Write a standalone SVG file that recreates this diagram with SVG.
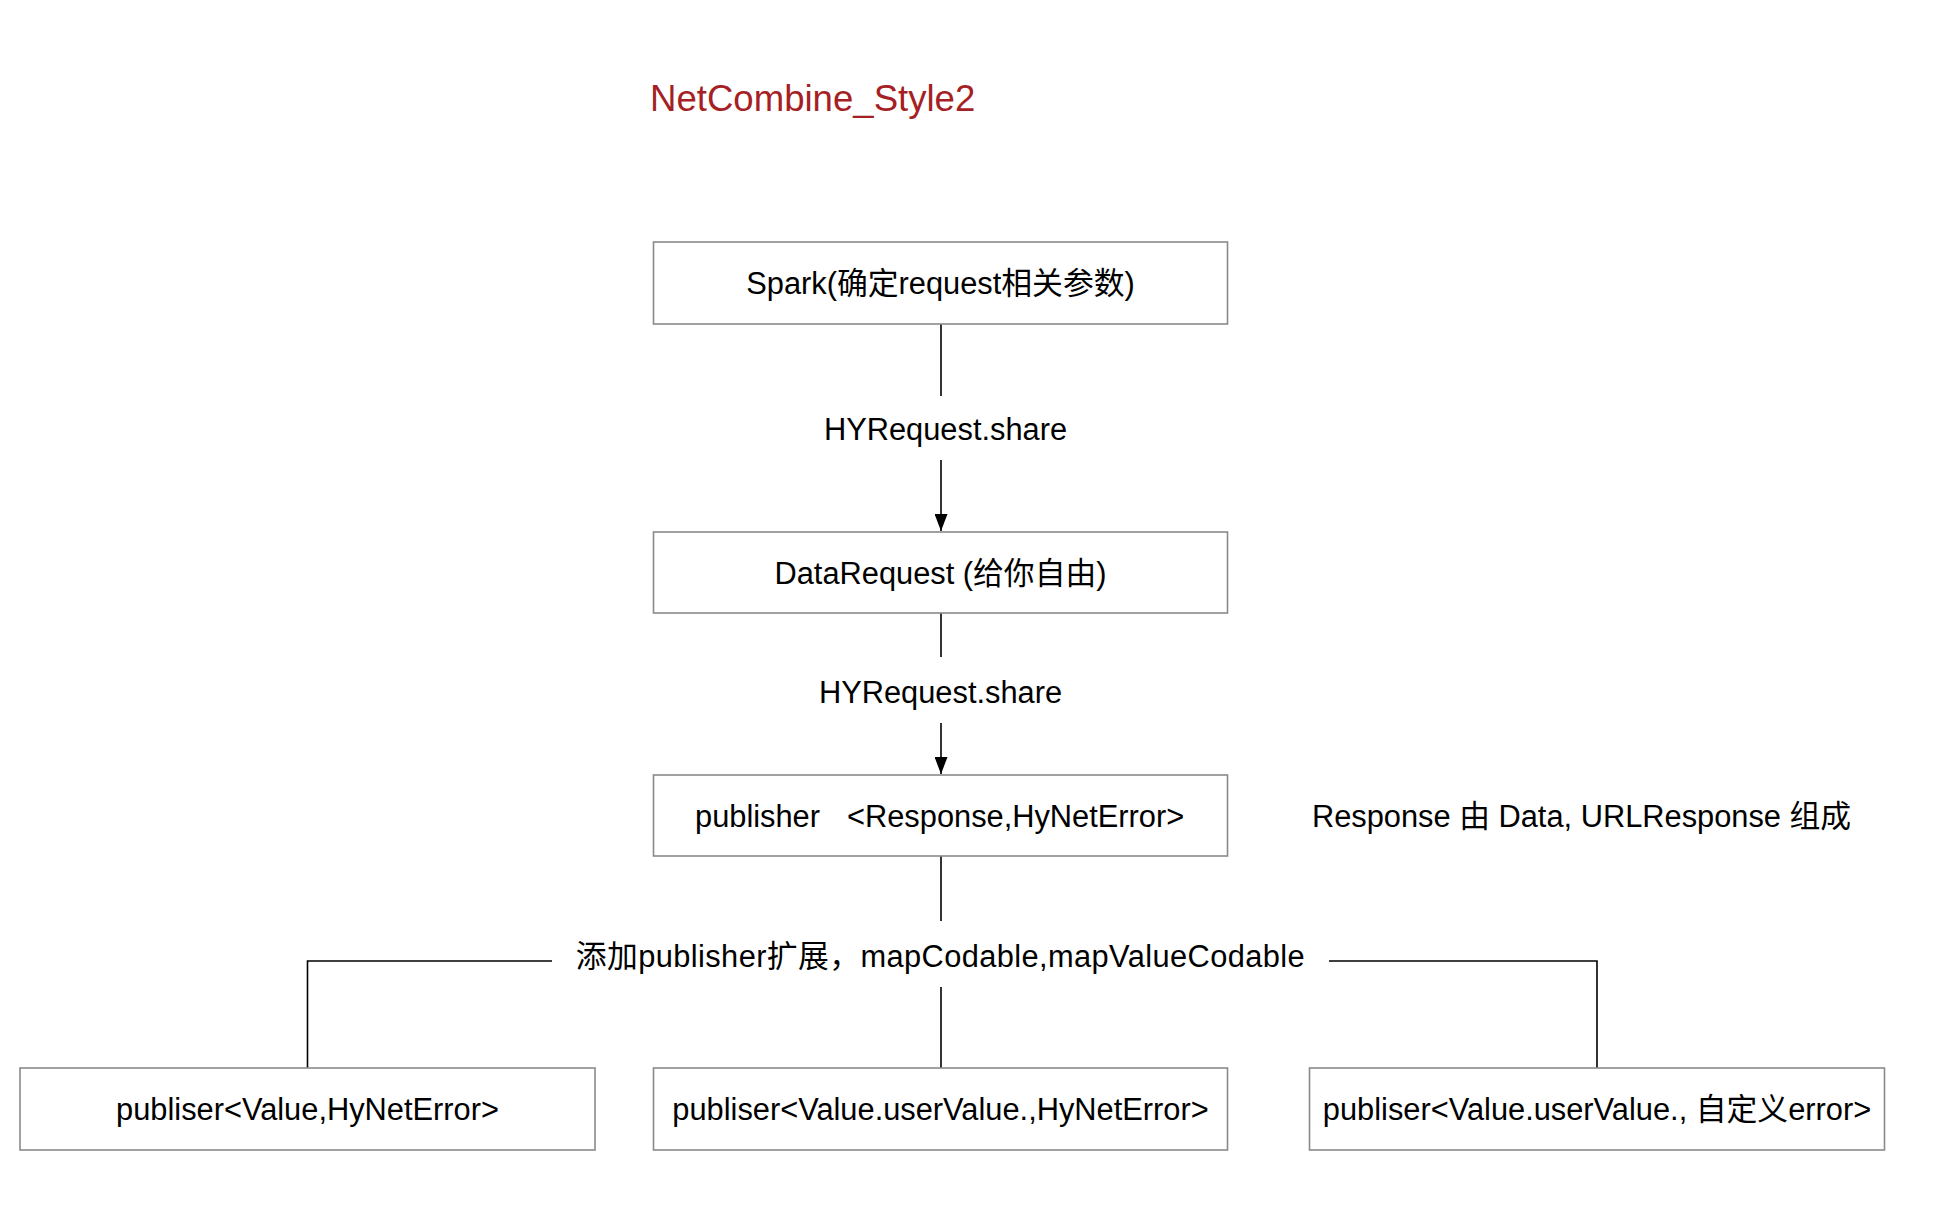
<svg xmlns="http://www.w3.org/2000/svg" width="1942" height="1216" viewBox="0 0 1942 1216">
<style>
.box{fill:#ffffff;stroke:#8a8a8a;stroke-width:1.6}
.t{font-family:"Liberation Sans","Noto Sans CJK SC",Arial,sans-serif;font-size:30.8px;fill:#000000;text-anchor:middle}
.ts{font-family:"Liberation Sans","Noto Sans CJK SC",Arial,sans-serif;font-size:30.8px;fill:#000000;text-anchor:start}
.title{font-family:"Liberation Sans","Noto Sans CJK SC",Arial,sans-serif;font-size:36.6px;fill:#A51F25}
.ln{fill:none;stroke:#000000;stroke-width:1.6}
</style>
<defs>
<marker id="ah" markerWidth="17" markerHeight="13" refX="17" refY="6.5" orient="auto" markerUnits="userSpaceOnUse" viewBox="0 0 17 13">
<path d="M0,0 L17,6.5 L0,13 Z" fill="#000000"/>
</marker>
</defs>
<text class="title" x="650" y="111">NetCombine_Style2</text>
<g id="connectors">
<line class="ln" x1="941" y1="324" x2="941" y2="396"/>
<line class="ln" x1="941" y1="460" x2="941" y2="531" marker-end="url(#ah)"/>
<line class="ln" x1="941" y1="613" x2="941" y2="657"/>
<line class="ln" x1="941" y1="723" x2="941" y2="774" marker-end="url(#ah)"/>
<line class="ln" x1="941" y1="856" x2="941" y2="921"/>
<line class="ln" x1="941" y1="987" x2="941" y2="1068"/>
<polyline class="ln" points="552,961 307.5,961 307.5,1068"/>
<polyline class="ln" points="1329,961 1597,961 1597,1068"/>
<text class="t" x="945.5" y="440">HYRequest.share</text>
<text class="t" x="940.5" y="703">HYRequest.share</text>
<text class="t" x="940.5" y="967" style="letter-spacing:0.4px">添加publisher扩展，mapCodable,mapValueCodable</text>
</g>
<g id="spark">
<rect class="box" x="653.5" y="242" width="574" height="82"/>
<text class="t" x="940.5" y="294">Spark(确定request相关参数)</text>
</g>
<g id="datarequest">
<rect class="box" x="653.5" y="532" width="574" height="81"/>
<text class="t" x="940.5" y="583.5">DataRequest (给你自由)</text>
</g>
<g id="publisher">
<rect class="box" x="653.5" y="775" width="574" height="81"/>
<text class="ts" y="827"><tspan x="695">publisher</tspan><tspan x="847">&lt;Response,HyNetError&gt;</tspan></text>
</g>
<g id="note">
<text class="t" x="1581.5" y="827">Response 由 Data, URLResponse 组成</text>
</g>
<g id="pub-left">
<rect class="box" x="20" y="1068" width="575" height="82"/>
<text class="t" x="307.5" y="1120">publiser&lt;Value,HyNetError&gt;</text>
</g>
<g id="pub-mid">
<rect class="box" x="653.5" y="1068" width="574" height="82"/>
<text class="t" x="940.5" y="1120">publiser&lt;Value.userValue.,HyNetError&gt;</text>
</g>
<g id="pub-right">
<rect class="box" x="1309.5" y="1068" width="575" height="82"/>
<text class="t" x="1597" y="1120">publiser&lt;Value.userValue., 自定义error&gt;</text>
</g>
</svg>
